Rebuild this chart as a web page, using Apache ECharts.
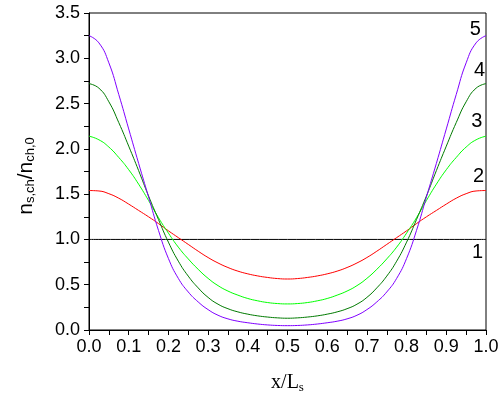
<!DOCTYPE html>
<html>
<head>
<meta charset="utf-8">
<script src="https://cdn.jsdelivr.net/npm/echarts@6/dist/echarts.min.js"></script>
<style>
  html, body { margin: 0; padding: 0; background: #fff; }
  #chart { width: 500px; height: 396px; }
</style>
</head>
<body>
<div id="chart"></div>
<script>
// x positions (x/Ls)
var xs = [0, 0.025, 0.05, 0.075, 0.1, 0.125, 0.15, 0.175, 0.2, 0.225, 0.25, 0.275, 0.3, 0.325, 0.35, 0.375, 0.4, 0.425, 0.45, 0.475, 0.5,
          0.525, 0.55, 0.575, 0.6, 0.625, 0.65, 0.675, 0.7, 0.725, 0.75, 0.775, 0.8, 0.825, 0.85, 0.875, 0.9, 0.925, 0.95, 0.975, 1];

// curve 1 : constant level
var curve1 = [1, 1];
var curve1X = [0, 1];

// curve 2 (red)
var curve2 = [1.54, 1.535, 1.505, 1.455, 1.39, 1.32, 1.25, 1.175, 1.095, 1.02, 0.945, 0.87, 0.80, 0.74, 0.69, 0.65, 0.62, 0.597, 0.58, 0.568, 0.563,
              0.568, 0.58, 0.597, 0.62, 0.65, 0.69, 0.74, 0.80, 0.87, 0.945, 1.02, 1.095, 1.175, 1.25, 1.32, 1.39, 1.455, 1.505, 1.535, 1.54];

// curve 3 (light green)
var curve3 = [2.14, 2.10, 2.02, 1.905, 1.77, 1.61, 1.43, 1.24, 1.07, 0.915, 0.785, 0.67, 0.57, 0.49, 0.43, 0.385, 0.348, 0.322, 0.303, 0.292, 0.288,
              0.292, 0.303, 0.322, 0.348, 0.385, 0.43, 0.49, 0.57, 0.67, 0.785, 0.915, 1.07, 1.24, 1.43, 1.61, 1.77, 1.905, 2.02, 2.10, 2.14];

// curve 4 (dark green)
var curve4 = [2.72, 2.67, 2.52, 2.29, 2.03, 1.76, 1.48, 1.22, 0.97, 0.76, 0.595, 0.465, 0.36, 0.285, 0.235, 0.20, 0.175, 0.156, 0.143, 0.134, 0.13,
              0.134, 0.143, 0.156, 0.175, 0.20, 0.235, 0.285, 0.36, 0.465, 0.595, 0.76, 0.97, 1.22, 1.48, 1.76, 2.03, 2.29, 2.52, 2.67, 2.72];

// curve 5 (violet)
var curve5 = [3.25, 3.17, 2.95, 2.60, 2.22, 1.84, 1.47, 1.10, 0.79, 0.57, 0.42, 0.31, 0.225, 0.163, 0.123, 0.097, 0.08, 0.066, 0.056, 0.05, 0.048,
              0.05, 0.056, 0.066, 0.08, 0.097, 0.123, 0.163, 0.225, 0.31, 0.42, 0.57, 0.79, 1.10, 1.47, 1.84, 2.22, 2.60, 2.95, 3.17, 3.25];

// curve numbers and where they sit (data coords)
var curveNames = ['1', '2', '3', '4', '5'];
var nameX = [0.979, 0.981, 0.977, 0.984, 0.973];
var nameY = [0.86, 1.69, 2.30, 2.87, 3.32];

var fontFamily = 'Arial, "Liberation Sans", sans-serif';

function pairs(xv, yv) {
  return yv.map(function (v, i) { return [xv[i], v]; });
}

function curveLine(idx, xv, yv, color) {
  return {
    type: 'line',
    data: pairs(xv, yv),
    smooth: true,
    symbol: 'none',
    silent: true,
    z: 3 + idx,
    lineStyle: { color: color, width: 1 },
    markPoint: {
      symbol: 'rect',
      symbolSize: 1,
      itemStyle: { color: 'rgba(0,0,0,0)' },
      label: {
        show: true,
        position: 'inside',
        formatter: curveNames[idx],
        color: '#000',
        fontSize: 20,
        fontFamily: fontFamily
      },
      data: [{ coord: [nameX[idx], nameY[idx]] }]
    }
  };
}

var chart = echarts.init(document.getElementById('chart'), null, { renderer: 'canvas' });

var option = {
  animation: false,
  backgroundColor: '#fff',
  grid: {
    left: 89, right: 14, top: 13, bottom: 66,
    containLabel: false,
    outerBoundsMode: 'none',
    show: true,
    borderColor: '#000',
    borderWidth: 1
  },
  xAxis: {
    type: 'value',
    min: 0, max: 1, interval: 0.1,
    name: '{a|x/L}{s|s}',
    nameLocation: 'middle',
    nameGap: 42,
    nameTextStyle: {
      rich: {
        a: { fontFamily: '"Liberation Serif", "DejaVu Serif", serif', fontSize: 20, color: '#000' },
        s: { fontFamily: '"Liberation Serif", "DejaVu Serif", serif', fontSize: 13, color: '#000', verticalAlign: 'bottom', padding: [9, 0, 0, 0] }
      }
    },
    axisLine: { lineStyle: { color: '#000', width: 1 } },
    axisTick: { length: 5, lineStyle: { color: '#000' } },
    minorTick: { show: true, splitNumber: 2, length: 5, lineStyle: { color: '#000' } },
    splitLine: { show: false },
    axisLabel: {
      color: '#000', fontSize: 18, fontFamily: fontFamily, margin: 8,
      formatter: function (v) { return v.toFixed(1); }
    }
  },
  yAxis: {
    type: 'value',
    min: 0, max: 3.5, interval: 0.5,
    name: '{n|n}{s|s,ch}{n|/n}{s|ch,0}',
    nameLocation: 'middle',
    nameRotate: 90,
    nameGap: 52,
    nameTextStyle: {
      padding: [0, 9, 0, 0],
      rich: {
        n: { fontFamily: fontFamily, fontSize: 21, color: '#000' },
        s: { fontFamily: fontFamily, fontSize: 13, color: '#000', verticalAlign: 'bottom', padding: [9, 0, 0, 0] }
      }
    },
    axisLine: { show: true, lineStyle: { color: '#000', width: 1 } },
    axisTick: { show: true, length: 5, lineStyle: { color: '#000' } },
    minorTick: { show: true, splitNumber: 2, length: 5, lineStyle: { color: '#000' } },
    splitLine: { show: false },
    axisLabel: {
      color: '#000', fontSize: 18, fontFamily: fontFamily, margin: 9,
      formatter: function (v) { return v.toFixed(1); }
    }
  },
  series: [
    curveLine(0, curve1X, curve1, '#000000'),
    curveLine(1, xs, curve2, '#ff0000'),
    curveLine(2, xs, curve3, '#00ff00'),
    curveLine(3, xs, curve4, '#007a00'),
    curveLine(4, xs, curve5, '#8000ff')
  ]
};

chart.setOption(option);
</script>
</body>
</html>
